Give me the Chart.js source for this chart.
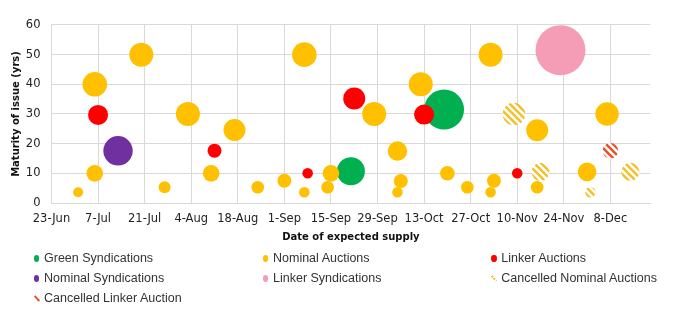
<!DOCTYPE html>
<html><head><meta charset="utf-8">
<script src="https://cdn.jsdelivr.net/npm/chart.js@4.4.1/dist/chart.umd.min.js"></script>
<style>
html,body{margin:0;padding:0;background:#fff;}
#wrap{position:relative;width:681px;height:329px;overflow:hidden;}
#c{position:absolute;left:0;top:0;}
.lt{position:absolute;font-family:"Liberation Sans",Arial,sans-serif;font-size:12.5px;color:#333;white-space:nowrap;line-height:14px;}
.mk{position:absolute;}
</style></head><body>
<div id="wrap"><canvas id="c" width="681" height="329"></canvas><div id="legend"></div></div>
<script>
// ---- axis ----
const startDate = '2021-06-23';
const endDate = '2021-12-20';
const tickDates = ['2021-06-23','2021-07-07','2021-07-21','2021-08-04','2021-08-18','2021-09-01','2021-09-15','2021-09-29','2021-10-13','2021-10-27','2021-11-10','2021-11-24','2021-12-08'];
const tickLabels = ['23-Jun','7-Jul','21-Jul','4-Aug','18-Aug','1-Sep','15-Sep','29-Sep','13-Oct','27-Oct','10-Nov','24-Nov','8-Dec'];
const yMin = 0, yMax = 60, yStep = 10;
const xTitle = 'Date of expected supply';
const yTitle = 'Maturity of issue (yrs)';

// ---- series ----
const seriesNames = ['Green Syndications','Nominal Auctions','Linker Auctions','Nominal Syndications','Linker Syndications','Cancelled Nominal Auctions','Cancelled Linker Auction'];

const greenDates = ['2021-09-21','2021-10-19'];
const greenMaturity = [10.7, 31.5];
const greenSize = [21.8, 44.4];

const nomAucDates = ['2021-07-01','2021-07-06','2021-07-06','2021-07-20','2021-07-27','2021-08-03','2021-08-10','2021-08-17','2021-08-24','2021-09-01','2021-09-07','2021-09-07','2021-09-14','2021-09-15','2021-09-28','2021-10-05','2021-10-06','2021-10-05','2021-10-12','2021-10-20','2021-10-26','2021-11-02','2021-11-03','2021-11-02','2021-11-16','2021-11-16','2021-12-01','2021-12-07'];
const nomAucMaturity = [3.6, 10, 40, 50, 5.3, 30, 10, 24.6, 5.3, 7.5, 50, 3.6, 5.3, 10, 30, 17.5, 7.4, 3.6, 40, 10, 5.3, 50, 7.5, 3.6, 24.5, 5.3, 10.5, 30];
const nomAucSize = [2.8, 7.7, 16.8, 16, 4.0, 16, 7.7, 13.4, 4.4, 5.4, 16.8, 3.1, 4.4, 7.7, 16, 10.5, 5.4, 3.1, 16, 5.9, 4.4, 16, 5.4, 3.1, 13.4, 4.4, 9.6, 15.2];

const linAucDates = ['2021-07-07','2021-08-11','2021-09-08','2021-09-22','2021-10-13','2021-11-10'];
const linAucMaturity = [29.7, 17.6, 10, 35.2, 29.8, 10];
const linAucSize = [11.1, 5.4, 3.1, 13.4, 11.1, 3.1];

const nomSynDates = ['2021-07-13'];
const nomSynMaturity = [17.6];
const nomSynSize = [24];

const linSynDates = ['2021-11-23'];
const linSynMaturity = [51.5];
const linSynSize = [69.4];

const canNomDates = ['2021-11-09','2021-11-17','2021-12-02','2021-12-14'];
const canNomMaturity = [30, 10.5, 3.6, 10.5];
const canNomSize = [14.2, 9.0, 3.1, 9.0];

const canLinDates = ['2021-12-08'];
const canLinMaturity = [17.6];
const canLinSize = [6.6];

// ---- helpers ----
const DAY = 86400000;
const t0 = Date.parse(startDate);
const toDay = d => (Date.parse(d) - t0) / DAY;
const toPts = (dates, mats, sizes) => dates.map((d, i) => ({x: toDay(d), y: mats[i], r: 3 * Math.sqrt(sizes[i])}));

function hatch(color) {
  const s = 7;
  const c = document.createElement('canvas');
  c.width = s; c.height = s;
  const g = c.getContext('2d');
  g.fillStyle = '#ffffff'; g.fillRect(0, 0, s, s);
  g.strokeStyle = color; g.lineWidth = 2.6;
  g.beginPath();
  g.moveTo(-1, -1); g.lineTo(s + 1, s + 1);
  g.moveTo(-1, s - 1); g.lineTo(1, s + 1);
  g.moveTo(s - 1, -1); g.lineTo(s + 1, 1);
  g.stroke();
  return g.createPattern(c, 'repeat');
}

const colors = ['#00B050', '#FFC000', '#FF0000', '#7030A0', '#F59CB6', '#F2C12E', '#E2552A'];
const fills = [colors[0], colors[1], colors[2], colors[3], colors[4], hatch(colors[5]), hatch(colors[6])];
const seriesPts = [
  toPts(greenDates, greenMaturity, greenSize),
  toPts(nomAucDates, nomAucMaturity, nomAucSize),
  toPts(linAucDates, linAucMaturity, linAucSize),
  toPts(nomSynDates, nomSynMaturity, nomSynSize),
  toPts(linSynDates, linSynMaturity, linSynSize),
  toPts(canNomDates, canNomMaturity, canNomSize),
  toPts(canLinDates, canLinMaturity, canLinSize)
];

const datasets = seriesNames.map((name, i) => ({
  label: name,
  data: seriesPts[i],
  backgroundColor: fills[i],
  borderWidth: 0,
  order: seriesNames.length - i
}));

const tickDays = tickDates.map(toDay);
const gridCol = '#D9D9D9';
const tickFont = {family: '"DejaVu Sans", Verdana, sans-serif', size: 11.5};
const titleFont = {family: '"DejaVu Sans", Verdana, sans-serif', size: 10, weight: 'bold'};

new Chart(document.getElementById('c'), {
  type: 'bubble',
  data: {datasets},
  options: {
    responsive: false,
    animation: false,
    events: [],
    layout: {padding: {left: 0, right: 30.7, top: 24.3, bottom: 86}},
    plugins: {legend: {display: false}, tooltip: {enabled: false}},
    scales: {
      x: {
        type: 'linear',
        min: 0,
        max: toDay(endDate),
        afterBuildTicks: ax => { ax.ticks = tickDays.map(v => ({value: v})); },
        afterFit: sc => { sc.height = 40; },
        ticks: {
          autoSkip: false, maxRotation: 0, padding: 9, color: '#222', font: tickFont,
          callback: v => { const k = tickDays.indexOf(v); return k >= 0 ? tickLabels[k] : ''; }
        },
        grid: {color: gridCol, drawTicks: false},
        border: {color: gridCol},
        title: {display: true, text: xTitle, color: '#111', font: titleFont, padding: {top: 0, bottom: 0}}
      },
      y: {
        min: yMin, max: yMax,
        afterFit: sc => { sc.width = 51.5; },
        ticks: {stepSize: yStep, padding: 11, color: '#222', font: tickFont},
        grid: {color: gridCol, drawTicks: false},
        border: {color: gridCol},
        title: {display: true, text: yTitle, color: '#111', font: titleFont, padding: {top: 10, bottom: 0}}
      }
    }
  }
});

// ---- HTML legend ----
const legCols = [36.7, 265.7, 494];
const legRows = [258.3, 278.3, 298.3];
const leg = document.getElementById('legend');
seriesNames.forEach((name, i) => {
  const cx = legCols[i % 3], cy = legRows[Math.floor(i / 3)];
  const m = document.createElement('div');
  m.className = 'mk';
  if (i < 5) {
    m.style.cssText = `left:${cx - 2.6}px;top:${cy - 3.4}px;width:5.2px;height:6.8px;border-radius:50%;background:${colors[i]};`;
  } else {
    const bg = i === 5 ? `repeating-linear-gradient(to bottom, ${colors[i]} 0 2px, rgba(255,255,255,0) 2px 3.2px)` : colors[i];
    m.style.cssText = `left:${cx - 0.9}px;top:${cy - 3.5}px;width:1.8px;height:7px;transform:rotate(-42deg);background:${bg};`;
  }
  leg.appendChild(m);
  const t = document.createElement('div');
  t.className = 'lt';
  t.textContent = name;
  t.style.left = (cx + 7.3) + 'px';
  t.style.top = (cy - 7.5) + 'px';
  leg.appendChild(t);
});
</script>
</body></html>
